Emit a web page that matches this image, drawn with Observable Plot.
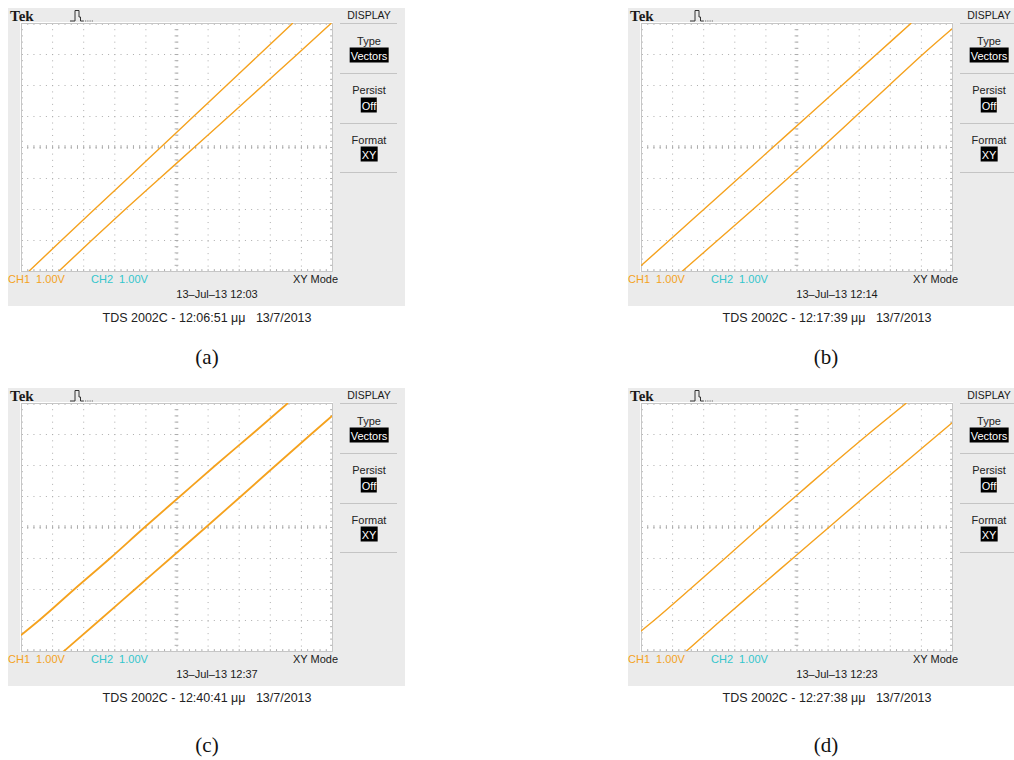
<!DOCTYPE html>
<html><head><meta charset="utf-8">
<script src="https://cdn.jsdelivr.net/npm/d3@7"></script>
<script src="https://cdn.jsdelivr.net/npm/@observablehq/plot@0.6"></script>
<style>
body{margin:0;background:#fff;}
#root{position:relative;width:1014px;height:760px;overflow:hidden;font-family:"Liberation Sans",Arial,sans-serif;}
.box{position:absolute;background:#ebebeb;}
.t{position:absolute;white-space:pre;line-height:1;transform:translate(-50%,-50%);}
.l{position:absolute;white-space:pre;line-height:1;transform:translate(0,-50%);}
.sep{position:absolute;height:0;border-top:1px solid #c4c4c4;}
.inv{background:#000;color:#fff;padding:2px 1px 1px 1px;}
svg.pl{position:absolute;}
</style></head><body><div id="root"></div>
<script>
// XY traces (x = CH1 divisions 0..10, y = CH2 divisions 0..8)
const a1 = [[0.23,0],[1.28,1],[2.34,2],[3.41,3],[4.47,4],[5.53,5],[6.59,6],[7.65,7],[8.71,8]];
const a2 = [[1.19,0],[2.25,1],[3.33,2],[4.44,3],[5.55,4],[6.66,5],[7.76,6],[8.86,7],[9.95,8]];
const b1 = [[0,0.2],[0.89,1],[2.0,2],[3.11,3],[4.22,4],[5.33,5],[6.44,6],[7.55,7],[8.66,8]];
const b2 = [[1.3,0],[2.44,1],[3.58,2],[4.7,3],[5.8,4],[6.88,5],[7.96,6],[9.04,7],[10,7.84]];
const c1 = [[0,0.54],[0.56,1],[1.69,2],[2.84,3],[3.95,4],[5.09,5],[6.23,6],[7.4,7],[8.55,8]];
const c2 = [[1.35,0],[2.5,1],[3.64,2],[4.78,3],[5.92,4],[7.05,5],[8.17,6],[9.3,7],[10,7.61]];
const d1 = [[0,0.67],[0.4,1],[1.55,2],[2.68,3],[3.8,4],[4.95,5],[6.1,6],[7.28,7],[8.5,8]];
const d2 = [[1.43,0],[2.55,1],[3.7,2],[4.86,3],[6.02,4],[7.18,5],[8.36,6],[9.54,7],[10,7.39]];

const panelLabels = ["(a)","(b)","(c)","(d)"];
const stamps = ["13\u2013Jul\u201313 12:03","13\u2013Jul\u201313 12:14","13\u2013Jul\u201313 12:37","13\u2013Jul\u201313 12:23"];
const captions = ["TDS 2002C - 12:06:51 \u03bc\u03bc   13/7/2013","TDS 2002C - 12:17:39 \u03bc\u03bc   13/7/2013","TDS 2002C - 12:40:41 \u03bc\u03bc   13/7/2013","TDS 2002C - 12:27:38 \u03bc\u03bc   13/7/2013"];
const ch1Traces = [a1,b1,c1,d1];
const ch2Traces = [a2,b2,c2,d2];

// graticule divisions
const xDiv = d3.range(1, 10);
const yDiv = d3.range(1, 8);
const xMinor = d3.range(0, 51).map(i => i / 5);
const yMinor = d3.range(0, 41).map(i => i / 5);

const root = document.getElementById("root");
function el(cls, html, css){const d=document.createElement("div");d.className=cls;d.innerHTML=html;Object.assign(d.style,css);root.appendChild(d);return d;}

const origins = [[0,0],[620,0],[0,380],[620,380]];
const labelPos = [[207,357],[826,357],[207,745],[826,745]];

origins.forEach(([ox,oy],i)=>{
  el("box","",{left:(ox+8)+"px",top:(oy+8)+"px",width:"397px",height:"298px"});
  // header
  el("l","Tek",{left:(ox+10)+"px",top:(oy+16)+"px",font:"bold 15px 'Liberation Serif',serif",color:"#1a1a1a"});
  el("l",'<svg width="24" height="13"><path d="M0 12H5V1.5H9V8H10.5V12H13" fill="none" stroke="#333" stroke-width="1"/><path d="M13 12H24" stroke="#555" stroke-width="1" stroke-dasharray="1 1.2"/></svg>',{left:(ox+70)+"px",top:(oy+17)+"px"});
  // side menu
  const mx = ox+369;
  el("t","DISPLAY",{left:mx+"px",top:(oy+15)+"px",fontSize:"10.5px",color:"#1a1a1a"});
  [23,73,123,172].forEach(y=>el("sep","",{left:(ox+340)+"px",top:(oy+y)+"px",width:"57px"}));
  el("t","Type",{left:mx+"px",top:(oy+41)+"px",fontSize:"11px",color:"#222"});
  el("t",'<span class="inv">Vectors</span>',{left:mx+"px",top:(oy+56)+"px",fontSize:"11px"});
  el("t","Persist",{left:mx+"px",top:(oy+90)+"px",fontSize:"11px",color:"#222"});
  el("t",'<span class="inv">Off</span>',{left:mx+"px",top:(oy+106)+"px",fontSize:"11px"});
  el("t","Format",{left:mx+"px",top:(oy+140)+"px",fontSize:"11px",color:"#222"});
  el("t",'<span class="inv">XY</span>',{left:mx+"px",top:(oy+155)+"px",fontSize:"11px"});
  // bottom status
  el("l","CH1  1.00V",{left:(ox+8)+"px",top:(oy+279)+"px",fontSize:"11px",color:"#f4a21c"});
  el("l","CH2  1.00V",{left:(ox+91)+"px",top:(oy+279)+"px",fontSize:"11px",color:"#33c6cc"});
  el("l","XY Mode",{left:(ox+293)+"px",top:(oy+279)+"px",fontSize:"11px",color:"#1a1a1a"});
  el("t",stamps[i],{left:(ox+217)+"px",top:(oy+294)+"px",fontSize:"11px",color:"#1a1a1a"});
  el("t",captions[i],{left:(ox+207)+"px",top:(oy+318)+"px",fontSize:"12.5px",color:"#222"});
  el("t",panelLabels[i],{left:labelPos[i][0]+"px",top:labelPos[i][1]+"px",font:"21px 'Liberation Serif',serif",color:"#111"});

  const lw = i===2 ? 1.8 : 1.4;
  const ty = 0.06, tx = 0.06;
  const gc = "#adadad";
  const svg = Plot.plot({
    width: 313, height: 250, margin: 1,
    x: {domain:[0,10], axis:null},
    y: {domain:[0,8], axis:null},
    style: {background:"#fff", overflow:"visible"},
    marks: [
      Plot.ruleX(xDiv, {stroke:gc, strokeDasharray:"1 5.22"}),
      Plot.ruleY(yDiv, {stroke:gc, strokeDasharray:"1 5.22"}),
      Plot.ruleX(xMinor, {y1:4-ty, y2:4+ty, stroke:gc}),
      Plot.ruleY(yMinor, {x1:5-tx, x2:5+tx, stroke:gc}),
      Plot.ruleX(xMinor, {y1:8, y2:8-ty, stroke:gc}),
      Plot.ruleX(xMinor, {y1:0, y2:ty, stroke:gc}),
      Plot.ruleY(yMinor, {x1:0, x2:tx, stroke:gc}),
      Plot.ruleY(yMinor, {x1:10, x2:10-tx, stroke:gc}),
      Plot.frame({stroke:"#c6c6c6"}),
      Plot.line(ch1Traces[i], {x:d=>d[0], y:d=>d[1], stroke:"#f5a21e", strokeWidth:lw, curve:"monotone-x", clip:true}),
      Plot.line(ch2Traces[i], {x:d=>d[0], y:d=>d[1], stroke:"#f5a21e", strokeWidth:lw, curve:"monotone-x", clip:true})
    ]
  });
  svg.classList.add("pl");
  svg.style.left = (ox+20)+"px";
  svg.style.top = (oy+22)+"px";
  root.appendChild(svg);
});
</script>
</body></html>
